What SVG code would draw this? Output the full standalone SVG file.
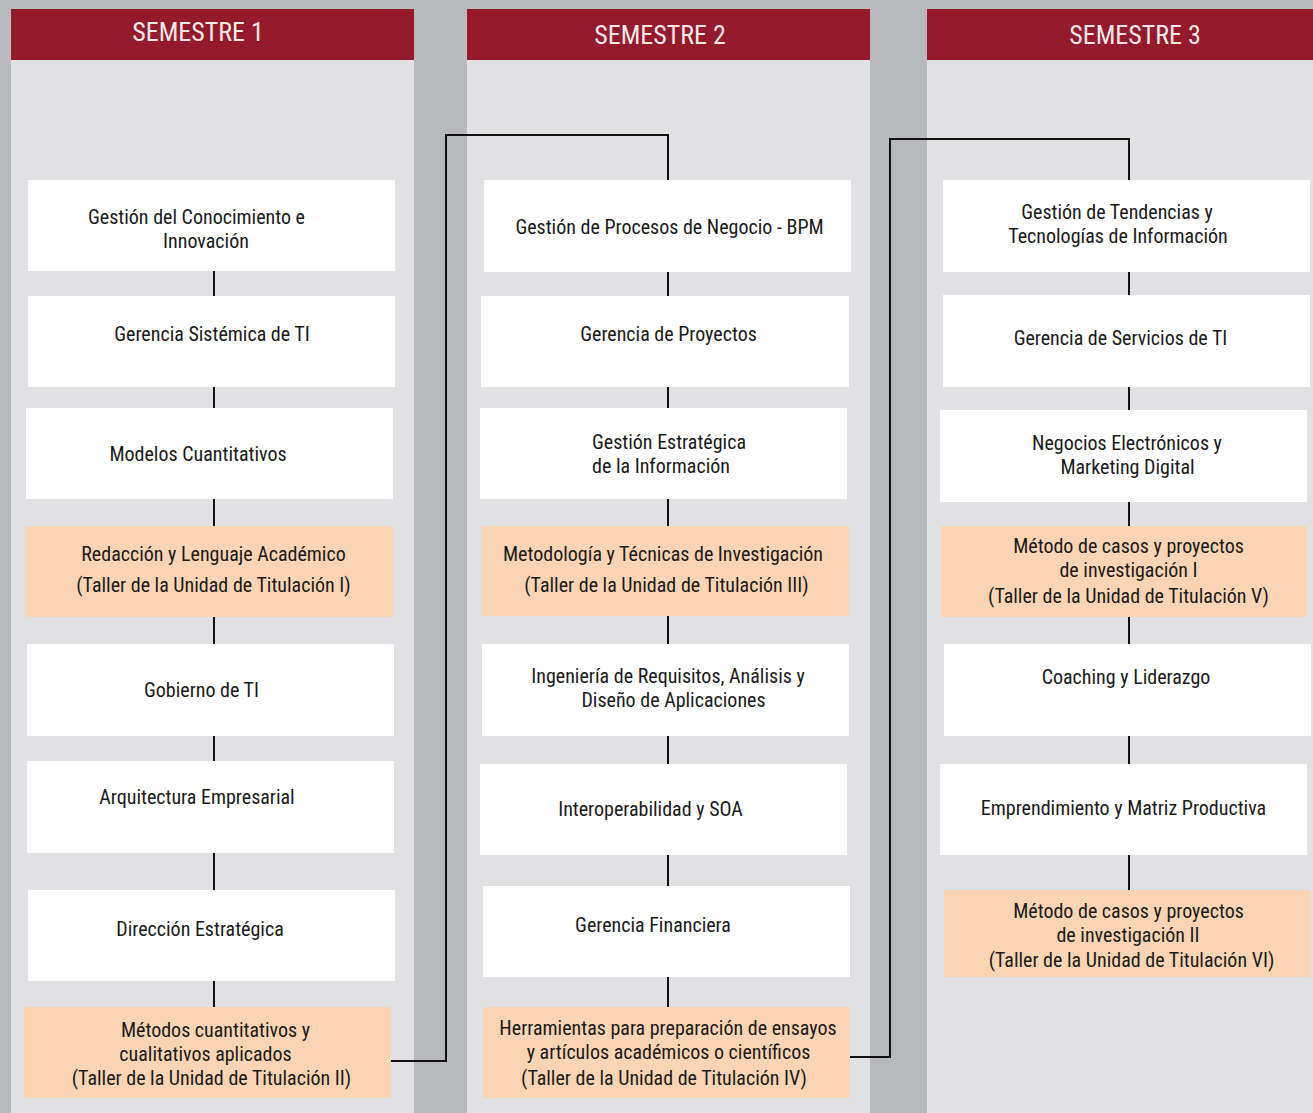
<svg xmlns="http://www.w3.org/2000/svg" width="1313" height="1113" viewBox="0 0 1313 1113">
<style>
.col{fill:#e1e1e3}
.hdr{fill:#951a2c}
.ht{fill:#f3e9eb;font-family:"Liberation Sans Narrow","Roboto Condensed","Liberation Sans",sans-serif;font-stretch:condensed;font-size:26px;text-anchor:middle}
.w{fill:#ffffff}
.p{fill:#fbd5b3}
.t{fill:#1a1a1a;font-family:"Liberation Sans Narrow","Roboto Condensed","Liberation Sans",sans-serif;font-stretch:condensed;font-size:20px;text-anchor:middle}
.s{text-anchor:start}
.c{fill:none;stroke:#111;stroke-width:2}
</style>
<rect x="0" y="0" width="1313" height="1113" fill="#b8b9bc"/>
<g id="columns">
<rect class="col" x="11" y="9" width="403" height="1104"/>
<rect class="col" x="467" y="9" width="403" height="1104"/>
<rect class="col" x="927" y="9" width="386" height="1104"/>
</g>
<g id="header1"><rect class="hdr" x="11" y="9" width="403" height="51"/><text class="ht" x="198" y="41">SEMESTRE 1</text></g>
<g id="header2"><rect class="hdr" x="467" y="9" width="403" height="51"/><text class="ht" x="660" y="44">SEMESTRE 2</text></g>
<g id="header3"><rect class="hdr" x="927" y="9" width="386" height="51"/><text class="ht" x="1135" y="44">SEMESTRE 3</text></g>

<g id="connectors">
<path class="c" d="M214 271V296M214 387V408M214 499V526M214 617V644M214 736V761M214 853V890M214 981V1007"/>
<path class="c" d="M668 272V296M668 387V408M668 499V526M668 616V644M668 736V764M668 855V886M668 977V1007"/>
<path class="c" d="M1129 272V295M1129 387V410M1129 502V526M1129 617V644M1129 736V764M1129 855V890"/>
<path class="c" d="M391 1061H446V135H668V180"/>
<path class="c" d="M850 1057H890V139H1129V180"/>
</g>

<g id="s1n1"><rect class="w" x="28" y="180" width="367" height="91"/><text class="t" x="196.5" y="224">Gestión del Conocimiento e</text><text class="t" x="206" y="248">Innovación</text></g>
<g id="s1n2"><rect class="w" x="28" y="296" width="367" height="91"/><text class="t" x="212" y="341">Gerencia Sistémica de TI</text></g>
<g id="s1n3"><rect class="w" x="26" y="408" width="367" height="91"/><text class="t" x="198" y="461">Modelos Cuantitativos</text></g>
<g id="s1n4"><rect class="p" x="26" y="526" width="367" height="91"/><text class="t" x="213.5" y="561">Redacción y Lenguaje Académico</text><text class="t" x="213.5" y="592">(Taller de la Unidad de Titulación I)</text></g>
<g id="s1n5"><rect class="w" x="27" y="644" width="367" height="92"/><text class="t" x="201.5" y="697">Gobierno de TI</text></g>
<g id="s1n6"><rect class="w" x="27" y="761" width="367" height="92"/><text class="t" x="197" y="804">Arquitectura Empresarial</text></g>
<g id="s1n7"><rect class="w" x="28" y="890" width="367" height="91"/><text class="t" x="200" y="936">Dirección Estratégica</text></g>
<g id="s1n8"><rect class="p" x="24" y="1007" width="367" height="91"/><text class="t" x="215.5" y="1037">Métodos cuantitativos y</text><text class="t" x="205.5" y="1061">cualitativos aplicados</text><text class="t" x="211.5" y="1085">(Taller de la Unidad de Titulación II)</text></g>

<g id="s2n1"><rect class="w" x="484" y="180" width="367" height="92"/><text class="t" x="669.5" y="234">Gestión de Procesos de Negocio - BPM</text></g>
<g id="s2n2"><rect class="w" x="481" y="296" width="368" height="91"/><text class="t" x="668.5" y="341">Gerencia de Proyectos</text></g>
<g id="s2n3"><rect class="w" x="480" y="408" width="367" height="91"/><text class="t s" x="592" y="449">Gestión Estratégica</text><text class="t s" x="592" y="473">de la Información</text></g>
<g id="s2n4"><rect class="p" x="482" y="526" width="367" height="90"/><text class="t" x="663" y="561">Metodología y Técnicas de Investigación</text><text class="t" x="666.5" y="592">(Taller de la Unidad de Titulación III)</text></g>
<g id="s2n5"><rect class="w" x="482" y="644" width="367" height="92"/><text class="t" x="668" y="683">Ingeniería de Requisitos, Análisis y</text><text class="t" x="673.5" y="707">Diseño de Aplicaciones</text></g>
<g id="s2n6"><rect class="w" x="480" y="764" width="367" height="91"/><text class="t" x="650.5" y="816">Interoperabilidad y SOA</text></g>
<g id="s2n7"><rect class="w" x="483" y="886" width="367" height="91"/><text class="t" x="653" y="932">Gerencia Financiera</text></g>
<g id="s2n8"><rect class="p" x="483" y="1007" width="367" height="91"/><text class="t" x="668" y="1035">Herramientas para preparación de ensayos</text><text class="t" x="668.5" y="1059">y artículos académicos o científicos</text><text class="t" x="664" y="1085">(Taller de la Unidad de Titulación IV)</text></g>

<g id="s3n1"><rect class="w" x="943" y="180" width="367" height="92"/><text class="t" x="1117" y="219">Gestión de Tendencias y</text><text class="t" x="1118" y="243">Tecnologías de Información</text></g>
<g id="s3n2"><rect class="w" x="943" y="295" width="367" height="92"/><text class="t" x="1120.5" y="345">Gerencia de Servicios de TI</text></g>
<g id="s3n3"><rect class="w" x="940" y="410" width="367" height="92"/><text class="t" x="1127" y="450">Negocios Electrónicos y</text><text class="t" x="1127.5" y="474">Marketing Digital</text></g>
<g id="s3n4"><rect class="p" x="941" y="526" width="366" height="91"/><text class="t" x="1128.5" y="553">Método de casos y proyectos</text><text class="t" x="1128.5" y="577">de investigación I</text><text class="t" x="1128.5" y="603">(Taller de la Unidad de Titulación V)</text></g>
<g id="s3n5"><rect class="w" x="944" y="644" width="367" height="92"/><text class="t" x="1126" y="684">Coaching y Liderazgo</text></g>
<g id="s3n6"><rect class="w" x="940" y="764" width="367" height="91"/><text class="t" x="1123.5" y="815">Emprendimiento y Matriz Productiva</text></g>
<g id="s3n7"><rect class="p" x="944" y="890" width="367" height="87"/><text class="t" x="1128.5" y="918">Método de casos y proyectos</text><text class="t" x="1128" y="942">de investigación II</text><text class="t" x="1131.5" y="967">(Taller de la Unidad de Titulación VI)</text></g>
</svg>
